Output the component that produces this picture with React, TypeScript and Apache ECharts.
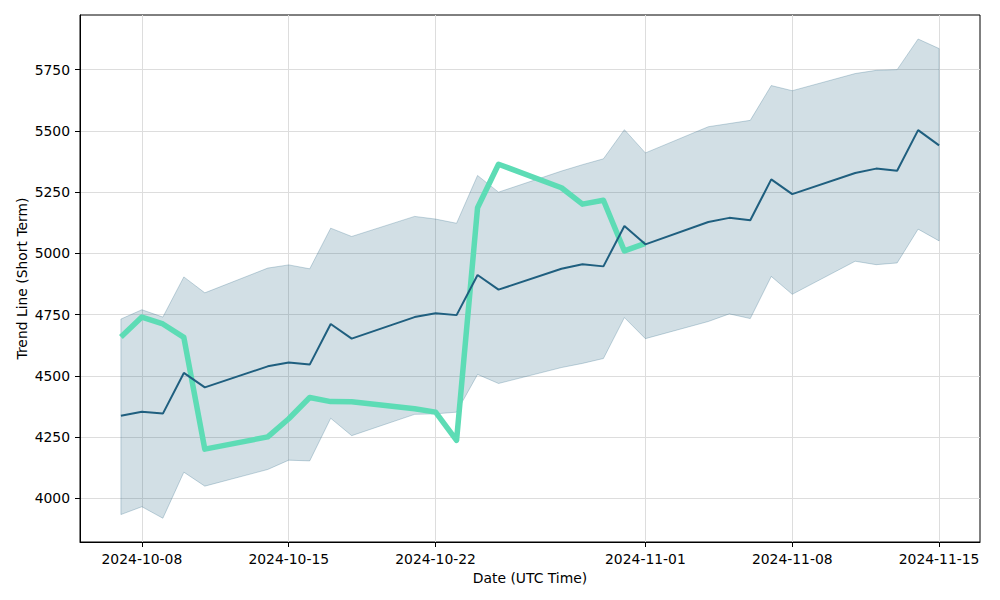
import React, { useEffect, useRef } from "react";
import * as echarts from "echarts";

const dates = [
  "2024-10-07", "2024-10-08", "2024-10-09", "2024-10-10", "2024-10-11",
  "2024-10-14", "2024-10-15", "2024-10-16", "2024-10-17", "2024-10-18",
  "2024-10-21", "2024-10-22", "2024-10-23", "2024-10-24", "2024-10-25",
  "2024-10-28", "2024-10-29", "2024-10-30", "2024-10-31", "2024-11-01",
  "2024-11-04", "2024-11-05", "2024-11-06", "2024-11-07", "2024-11-08",
  "2024-11-11", "2024-11-12", "2024-11-13", "2024-11-14", "2024-11-15",
];

const trendMean = [
  4337, 4354, 4346, 4512, 4453,
  4539, 4555, 4546, 4712, 4652,
  4740, 4756, 4748, 4912, 4852,
  4937, 4956, 4947, 5112, 5037,
  5128, 5145, 5135, 5302, 5242,
  5328, 5346, 5337, 5503, 5441,
];

const trendUpper = [
  4732, 4770, 4740, 4904, 4839,
  4940, 4953, 4937, 5103, 5069,
  5151, 5140, 5123, 5318, 5250,
  5336, 5362, 5386, 5505, 5410,
  5517, 5530, 5543, 5685, 5664,
  5734, 5747, 5750, 5875, 5836,
];

const trendLower = [
  3934, 3966, 3919, 4107, 4050,
  4118, 4156, 4153, 4327, 4256,
  4343, 4345, 4352, 4506, 4469,
  4534, 4551, 4571, 4738, 4652,
  4722, 4753, 4734, 4906, 4833,
  4968, 4954, 4961, 5099, 5051,
];

// actual values (only up to 2024-11-01)
const actualDates = [
  "2024-10-07", "2024-10-08", "2024-10-09", "2024-10-10", "2024-10-11",
  "2024-10-14", "2024-10-15", "2024-10-16", "2024-10-17", "2024-10-18",
  "2024-10-21", "2024-10-22", "2024-10-23", "2024-10-24", "2024-10-25",
  "2024-10-28", "2024-10-29", "2024-10-30", "2024-10-31", "2024-11-01",
];
const actualValues = [
  4659, 4740, 4712, 4657, 4201,
  4251, 4325, 4412, 4395, 4394,
  4366, 4352, 4237, 5186, 5364,
  5268, 5201, 5217, 5010, 5041,
];

const xTickLabels = ["2024-10-08", "2024-10-15", "2024-10-22", "2024-11-01", "2024-11-08", "2024-11-15"];
const yTickValues = [4000, 4250, 4500, 4750, 5000, 5250, 5500, 5750];

const toMs = (d: string) => Date.parse(d + "T00:00:00Z");
const DAY = 86400000;

export default function App() {
  const ref = useRef<HTMLDivElement>(null);
  useEffect(() => {
    if (!ref.current) return;
    const chart = echarts.init(ref.current, null, { renderer: "svg" });
    const font = "DejaVu Sans";
    const xs = dates.map(toMs);
    const xMin = xs[0] - 1.95 * DAY;
    const xMax = xs[xs.length - 1] + 1.95 * DAY;

    const option: any = {
      animation: false,
      backgroundColor: "#ffffff",
      textStyle: { fontFamily: font },
      grid: {
        left: 80, right: 20, top: 15, bottom: 58,
        containLabel: false,
        outerBoundsMode: "none",
        show: true, borderColor: "#000000", borderWidth: 1, backgroundColor: "transparent",
      },
      xAxis: {
        type: "value",
        min: xMin,
        max: xMax,
        name: "Date (UTC Time)",
        nameLocation: "middle",
        nameGap: 29,
        nameMoveOverlap: false,
        nameTextStyle: { fontFamily: font, fontSize: 13.9, color: "#000" },
        axisLine: { show: true, lineStyle: { color: "#000", width: 1 } },
        axisTick: {
          show: true, length: 5, inside: false,
          lineStyle: { color: "#000", width: 1 },
          customValues: xTickLabels.map(toMs),
        },
        axisLabel: {
          show: true, margin: 10, fontFamily: font, fontSize: 13.9, color: "#000",
          customValues: xTickLabels.map(toMs),
          formatter: (v: number) => new Date(v).toISOString().slice(0, 10),
        },
        splitLine: { show: true, lineStyle: { color: "#dddddd", width: 1 } },
      },
      yAxis: {
        type: "value",
        min: 3822,
        max: 5973,
        name: "Trend Line (Short Term)",
        nameLocation: "middle",
        nameGap: 51,
        nameRotate: 90,
        nameMoveOverlap: false,
        nameTextStyle: { fontFamily: font, fontSize: 13.9, color: "#000" },
        axisLine: { show: true, lineStyle: { color: "#000", width: 1 } },
        axisTick: {
          show: true, length: 5, inside: false,
          lineStyle: { color: "#000", width: 1 },
          customValues: yTickValues,
        },
        axisLabel: {
          show: true, margin: 10, fontFamily: font, fontSize: 13.9, color: "#000",
          customValues: yTickValues,
          formatter: (v: number) => String(v),
        },
        splitLine: { show: true, lineStyle: { color: "#dddddd", width: 1 } },
      },
      series: [
        {
          type: "custom",
          name: "band",
          silent: true,
          data: xs.map((x, i) => [x, trendUpper[i], trendLower[i]]),
          renderItem: (params: any, api: any) => {
            if (params.dataIndex !== 0) return null;
            const pts: number[][] = [];
            for (let i = 0; i < xs.length; i++) pts.push(api.coord([xs[i], trendUpper[i]]));
            for (let i = xs.length - 1; i >= 0; i--) pts.push(api.coord([xs[i], trendLower[i]]));
            return {
              type: "polygon",
              shape: { points: pts },
              style: { fill: "rgba(31,95,127,0.2)", stroke: "rgba(31,95,127,0.25)", lineWidth: 1 },
            };
          },
          z: 1,
        },
        {
          type: "line",
          name: "actual",
          data: actualDates.map((d, i) => [toMs(d), actualValues[i]]),
          showSymbol: false,
          symbol: "none",
          lineStyle: { color: "#5ddcb5", width: 5.5, join: "round", cap: "butt" },
          z: 2,
        },
        {
          type: "line",
          name: "trend",
          data: xs.map((x, i) => [x, trendMean[i]]),
          showSymbol: false,
          symbol: "none",
          lineStyle: { color: "#1f5f7f", width: 2 },
          z: 3,
        },
      ],
    };
    chart.setOption(option);
    return () => chart.dispose();
  }, []);
  return (
    <div
      ref={ref}
      style={{ position: "fixed", left: 0, top: 0, width: 1000, height: 600, background: "#fff" }}
    />
  );
}
